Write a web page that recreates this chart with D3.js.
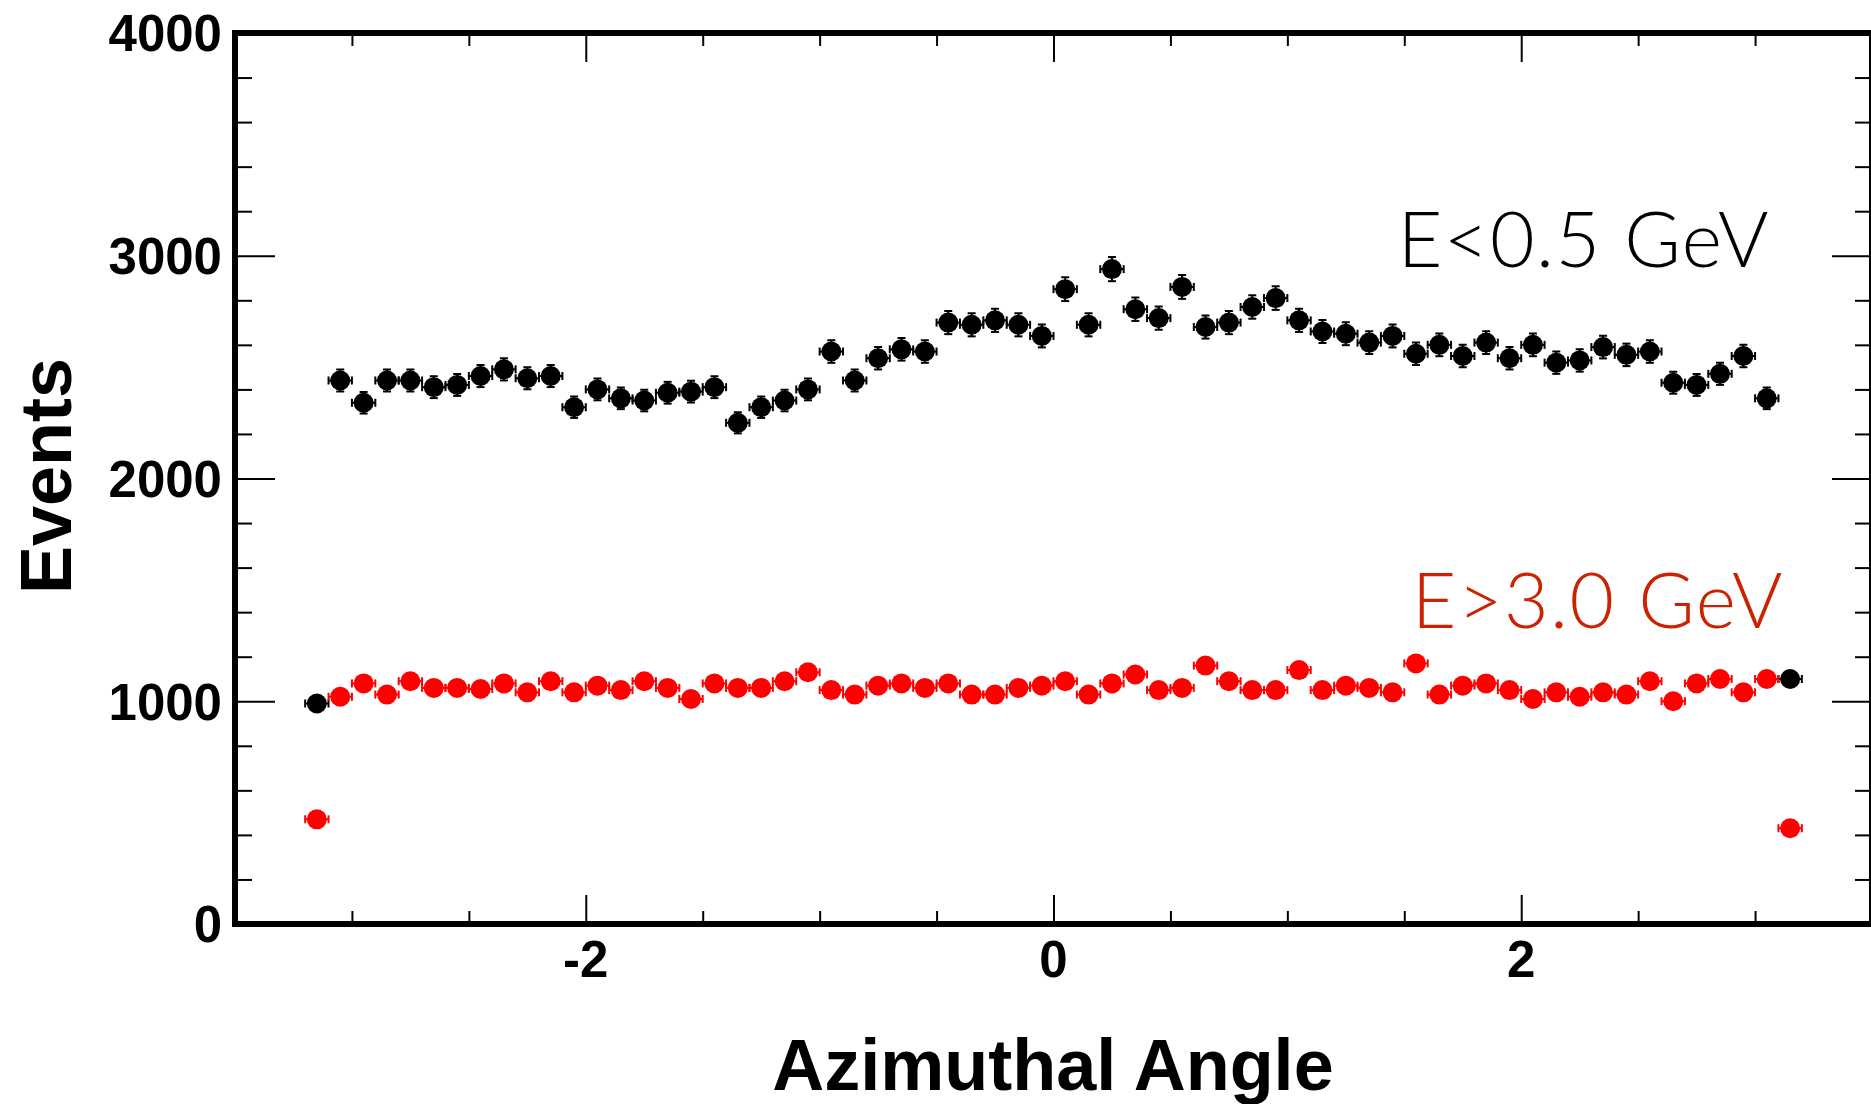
<!DOCTYPE html>
<html>
<head>
<meta charset="utf-8">
<script src="https://cdn.jsdelivr.net/npm/d3@7"></script>
<style>
  body { margin: 0; background: #fff; overflow: hidden; }
  svg { display: block; }
  .tick-label { font-family: "Liberation Sans", Arial, sans-serif; font-weight: bold; font-size: 51px; fill: #000; }
  .axis-title { font-family: "Liberation Sans", Arial, sans-serif; font-weight: bold; font-size: 72px; fill: #000; }
  .series-label { font-family: "Lato", "Open Sans", sans-serif; font-weight: 300; font-size: 77px; letter-spacing: 1.5px; }
</style>
</head>
<body>
<svg id="chart" width="1871" height="1104"></svg>
<script>
// bin centres of the azimuthal angle histogram (bin width 0.1)
const binCenters = [
  -3.15, -3.05, -2.95, -2.85, -2.75, -2.65, -2.55, -2.45, -2.35, -2.25, -2.15, -2.05, -1.95, -1.85, -1.75, -1.65,
  -1.55, -1.45, -1.35, -1.25, -1.15, -1.05, -0.95, -0.85, -0.75, -0.65, -0.55, -0.45, -0.35, -0.25, -0.15, -0.05,
  0.05, 0.15, 0.25, 0.35, 0.45, 0.55, 0.65, 0.75, 0.85, 0.95, 1.05, 1.15, 1.25, 1.35, 1.45, 1.55,
  1.65, 1.75, 1.85, 1.95, 2.05, 2.15, 2.25, 2.35, 2.45, 2.55, 2.65, 2.75, 2.85, 2.95, 3.05, 3.15
];

// E < 0.5 GeV
const lowEnergy = [
  990, 2440, 2340, 2440, 2440, 2410, 2420, 2460, 2490, 2450, 2460, 2320, 2400, 2360, 2350, 2385,
  2390, 2410, 2250, 2320, 2350, 2400, 2570, 2440, 2540, 2580, 2570, 2700, 2690, 2710, 2690, 2640,
  2850, 2690, 2940, 2760, 2720, 2860, 2680, 2700, 2770, 2810, 2710, 2660, 2650, 2610, 2640, 2560,
  2600, 2550, 2610, 2540, 2600, 2520, 2530, 2590, 2555, 2570, 2430, 2420, 2470, 2550, 2360, 1100
];

// E > 3.0 GeV
const highEnergy = [
  470, 1020, 1080, 1030, 1090, 1060, 1060, 1055, 1080, 1040, 1090, 1040, 1070, 1050, 1090, 1060,
  1010, 1080, 1060, 1060, 1090, 1130, 1050, 1030, 1070, 1080, 1060, 1080, 1030, 1030, 1060, 1070,
  1090, 1030, 1080, 1120, 1050, 1060, 1160, 1090, 1050, 1050, 1140, 1050, 1070, 1060, 1040, 1170,
  1030, 1070, 1080, 1050, 1010, 1040, 1020, 1040, 1030, 1090, 1000, 1080, 1100, 1040, 1100, 430
];

const xMajorTicks = [-2, 0, 2];
const xMinorTicks = [-3, -2.5, -1.5, -1, -0.5, 0.5, 1, 1.5, 2.5, 3];
const yMajorTicks = [0, 1000, 2000, 3000, 4000];
const yMinorTicks = [200, 400, 600, 800, 1200, 1400, 1600, 1800, 2200, 2400, 2600, 2800, 3200, 3400, 3600, 3800];
const seriesLabels = ["E<0.5 GeV", "E>3.0 GeV"];
const seriesColors = ["#000000", "#ff0000"];
const binWidth = 0.1;

const svg = d3.select("#chart");
const frame = { left: 235, right: 1872, top: 33, bottom: 924 };

const x = d3.scaleLinear().domain([-3.5, 3.5]).range([frame.left, frame.right]);
const y = d3.scaleLinear().domain([0, 4000]).range([frame.bottom, frame.top]);

// ticks (pointing into the frame on all four sides)
function tickGroup(axis, tx, ty) {
  const g = svg.append("g").attr("transform", `translate(${tx},${ty})`).call(axis);
  g.select(".domain").remove();
  g.selectAll(".tick line").attr("stroke", "#000").attr("stroke-width", 2);
  return g;
}

tickGroup(d3.axisBottom(x).tickValues(xMajorTicks).tickSize(-29).tickFormat(""), 0, frame.bottom);
tickGroup(d3.axisBottom(x).tickValues(xMinorTicks).tickSize(-13).tickFormat(""), 0, frame.bottom);
tickGroup(d3.axisTop(x).tickValues(xMajorTicks).tickSize(-29).tickFormat(""), 0, frame.top);
tickGroup(d3.axisTop(x).tickValues(xMinorTicks).tickSize(-13).tickFormat(""), 0, frame.top);
tickGroup(d3.axisLeft(y).tickValues(yMajorTicks).tickSize(-40).tickFormat(""), frame.left, 0);
tickGroup(d3.axisLeft(y).tickValues(yMinorTicks).tickSize(-17).tickFormat(""), frame.left, 0);
tickGroup(d3.axisRight(y).tickValues(yMajorTicks).tickSize(-40).tickFormat(""), frame.right, 0);
tickGroup(d3.axisRight(y).tickValues(yMinorTicks).tickSize(-17).tickFormat(""), frame.right, 0);

// tick labels
svg.append("g").selectAll("text")
  .data(yMajorTicks)
  .enter()
  .append("text")
  .attr("class", "tick-label")
  .attr("x", frame.left - 13)
  .attr("y", d => y(d))
  .attr("dy", "0.36em")
  .attr("text-anchor", "end")
  .text(d => d);

svg.append("g").selectAll("text")
  .data(xMajorTicks)
  .enter()
  .append("text")
  .attr("class", "tick-label")
  .attr("x", d => x(d))
  .attr("y", 977)
  .attr("text-anchor", "middle")
  .text(d => d);

// frame
svg.append("rect")
  .attr("x", frame.left)
  .attr("y", frame.top)
  .attr("width", frame.right - frame.left)
  .attr("height", frame.bottom - frame.top)
  .attr("fill", "none")
  .attr("stroke", "#000")
  .attr("stroke-width", 6);

// data points with error bars
function drawSeries(values, color) {
  const g = svg.append("g");
  const pts = binCenters.map((c, i) => ({ c, v: values[i], e: Math.sqrt(values[i]) }));
  const cap = 4;

  pts.forEach(d => {
    const cx = x(d.c), cy = y(d.v);
    const x0 = x(d.c - binWidth / 2), x1 = x(d.c + binWidth / 2);
    const yTop = y(d.v + d.e), yBot = y(d.v - d.e);
    const lines = [
      [x0, cy, x1, cy],
      [x0, cy - cap, x0, cy + cap],
      [x1, cy - cap, x1, cy + cap],
      [cx, yTop, cx, yBot],
      [cx - cap, yTop, cx + cap, yTop],
      [cx - cap, yBot, cx + cap, yBot]
    ];
    lines.forEach(l => {
      g.append("line")
        .attr("x1", l[0]).attr("y1", l[1])
        .attr("x2", l[2]).attr("y2", l[3])
        .attr("stroke", color)
        .attr("stroke-width", 2);
    });
  });

  g.selectAll("circle")
    .data(pts)
    .enter()
    .append("circle")
    .attr("cx", d => x(d.c))
    .attr("cy", d => y(d.v))
    .attr("r", 10)
    .attr("fill", color);
}

drawSeries(lowEnergy, seriesColors[0]);
drawSeries(highEnergy, seriesColors[1]);

// series labels
svg.append("text")
  .attr("class", "series-label")
  .attr("x", 1770)
  .attr("y", 267)
  .attr("text-anchor", "end")
  .attr("fill", "#000")
  .text(seriesLabels[0]);

svg.append("text")
  .attr("class", "series-label")
  .attr("x", 1784)
  .attr("y", 628)
  .attr("text-anchor", "end")
  .attr("fill", "#cc2200")
  .text(seriesLabels[1]);

// axis titles
svg.append("text")
  .attr("class", "axis-title")
  .attr("transform", "translate(71,476) rotate(-90)")
  .attr("text-anchor", "middle")
  .text("Events");

svg.append("text")
  .attr("class", "axis-title")
  .attr("x", 1053)
  .attr("y", 1090)
  .attr("text-anchor", "middle")
  .text("Azimuthal Angle");
</script>
</body>
</html>
